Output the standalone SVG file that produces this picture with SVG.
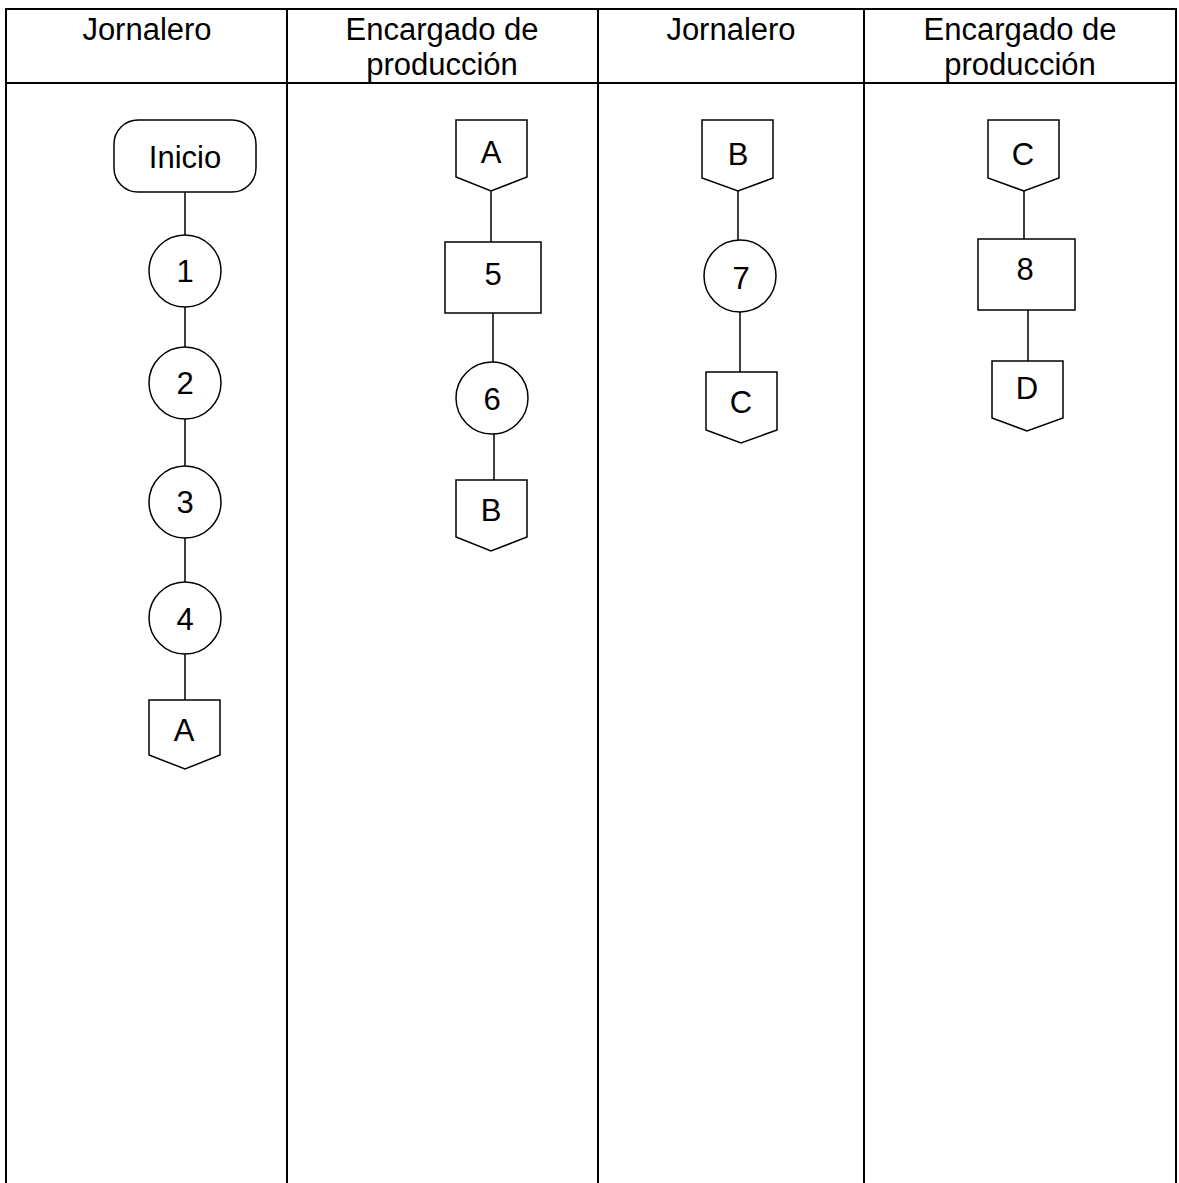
<svg xmlns="http://www.w3.org/2000/svg" width="1179" height="1183" viewBox="0 0 1179 1183">
<style>
.grid{stroke:#000;stroke-width:2;fill:none}
.sh{stroke:#000;stroke-width:1.5;fill:#fff}
.ln{stroke:#000;stroke-width:1.5;fill:none}
text{font-family:"Liberation Sans",Arial,sans-serif;font-size:31px;fill:#000;text-anchor:middle}
</style>
<rect width="1179" height="1183" fill="#fff"/>
<g id="table">
<path class="grid" d="M6,1190 V9 H1176 V1190 M287,9 V1190 M598,9 V1190 M864,9 V1190 M6,83 H1176"/>
<text x="147" y="40">Jornalero</text>
<text x="442" y="40">Encargado de</text>
<text x="442" y="75">producción</text>
<text x="731" y="40">Jornalero</text>
<text x="1020" y="40">Encargado de</text>
<text x="1020" y="75">producción</text>
</g>
<g id="connectors">
<path class="ln" d="M185,191 V235 M185,307 V347 M185,419 V466 M185,538 V582 M185,654 V700"/>
<path class="ln" d="M491,190 V242 M493,313 V363 M494,434 V480"/>
<path class="ln" d="M738,191 V240 M740,312 V372"/>
<path class="ln" d="M1024,191 V239 M1028,310 V361"/>
</g>
<g id="inicio"><rect class="sh" x="114" y="120" width="142" height="72" rx="24"/><text x="185" y="168">Inicio</text></g>
<g id="n1"><circle class="sh" cx="185" cy="271" r="36"/><text x="185" y="282">1</text></g>
<g id="n2"><circle class="sh" cx="185" cy="383" r="36"/><text x="185" y="394">2</text></g>
<g id="n3"><circle class="sh" cx="185" cy="502" r="36"/><text x="185" y="513">3</text></g>
<g id="n4"><circle class="sh" cx="185" cy="618" r="36"/><text x="185" y="630">4</text></g>
<g id="a1"><path class="sh" d="M149,700 H220 V755 L185,769 L149,755 Z"/><text x="184" y="741">A</text></g>
<g id="a2"><path class="sh" d="M456,120 H527 V177 L491,191 L456,177 Z"/><text x="491" y="163">A</text></g>
<g id="n5"><rect class="sh" x="445" y="242" width="96" height="71"/><text x="493" y="285">5</text></g>
<g id="n6"><circle class="sh" cx="492" cy="398" r="36"/><text x="492" y="410">6</text></g>
<g id="b1"><path class="sh" d="M456,480 H527 V537 L491,551 L456,537 Z"/><text x="491" y="521">B</text></g>
<g id="b2"><path class="sh" d="M702,120 H773 V178 L738,191 L702,178 Z"/><text x="738" y="165">B</text></g>
<g id="n7"><circle class="sh" cx="740" cy="276" r="36"/><text x="741" y="289">7</text></g>
<g id="c1"><path class="sh" d="M706,372 H777 V430 L741,443 L706,430 Z"/><text x="741" y="413">C</text></g>
<g id="c2"><path class="sh" d="M988,120 H1059 V178 L1024,191 L988,178 Z"/><text x="1023" y="165">C</text></g>
<g id="n8"><rect class="sh" x="978" y="239" width="97" height="71"/><text x="1025" y="280">8</text></g>
<g id="d1"><path class="sh" d="M992,361 H1063 V418 L1027,431 L992,418 Z"/><text x="1027" y="399">D</text></g>
</svg>
